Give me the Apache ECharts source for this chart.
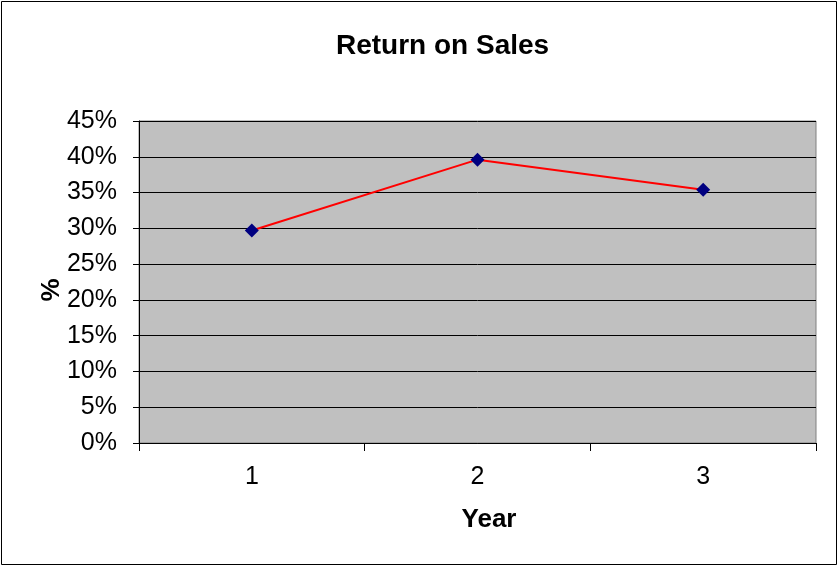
<!DOCTYPE html>
<html>
<head>
<meta charset="utf-8">
<script src="https://cdn.jsdelivr.net/npm/echarts@6/dist/echarts.min.js"></script>
<style>
  html, body { margin: 0; padding: 0; background: #fff; }
  #chart { width: 839px; height: 567px; }
</style>
</head>
<body>
<div id="chart"></div>
<script>
// Return on Sales by year
const years = ['1', '2', '3'];
const returnOnSales = [29.7, 39.6, 35.4];
const yTicks = { min: 0, max: 45, step: 5 };

const FONT = '"Liberation Sans", Arial, sans-serif';

const chart = echarts.init(document.getElementById('chart'), null, { renderer: 'canvas' });

chart.setOption({
  backgroundColor: '#ffffff',
  animation: false,
  title: {
    text: 'Return on Sales',
    left: 331,
    top: 27,
    textStyle: { fontFamily: FONT, fontSize: 28, fontWeight: 'bold', color: '#000' }
  },
  grid: {
    left: 139, right: 23, top: 121, bottom: 124,
    show: true,
    backgroundColor: '#c0c0c0',
    borderColor: '#808080',
    borderWidth: 1
  },
  xAxis: {
    type: 'category',
    data: years,
    boundaryGap: true,
    name: 'Year',
    nameLocation: 'middle',
    nameGap: 64,
    nameMoveOverlap: false,
    nameTextStyle: { fontFamily: FONT, fontSize: 26, fontWeight: 'bold', color: '#000', padding: [0, 0, 0, 23] },
    axisLine: { show: true, lineStyle: { color: '#000', width: 1 } },
    axisTick: { show: true, alignWithLabel: false, length: 8, lineStyle: { color: '#000' } },
    axisLabel: { fontFamily: FONT, fontSize: 25, color: '#000', margin: 22 },
    splitLine: { show: false }
  },
  yAxis: {
    type: 'value',
    min: yTicks.min,
    max: yTicks.max,
    interval: yTicks.step,
    name: '%',
    nameLocation: 'middle',
    nameGap: 74,
    nameMoveOverlap: false,
    nameRotate: 90,
    nameTextStyle: { fontFamily: FONT, fontSize: 26, fontWeight: 'bold', color: '#000', padding: [0, 16, 0, 0] },
    axisLine: { show: true, lineStyle: { color: '#000', width: 1 } },
    axisTick: { show: true, inside: false, length: 6, lineStyle: { color: '#000' } },
    axisLabel: { fontFamily: FONT, fontSize: 25, color: '#000', margin: 22, formatter: '{value}%' },
    splitLine: { show: true, lineStyle: { color: '#000', width: 1 } }
  },
  series: [{
    type: 'line',
    data: returnOnSales,
    symbol: 'diamond',
    symbolSize: 14,
    itemStyle: { color: '#000080' },
    lineStyle: { color: '#ff0000', width: 2 },
    z: 3
  }],
  graphic: [{
    type: 'rect',
    shape: { x: 1.5, y: 1.5, width: 835, height: 563 },
    style: { fill: 'none', stroke: '#000', lineWidth: 1 },
    silent: true
  }]
});
</script>
</body>
</html>
